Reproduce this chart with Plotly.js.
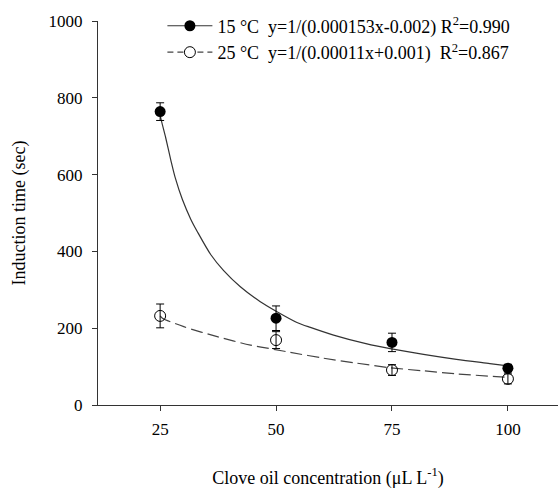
<!DOCTYPE html>
<html>
<head>
<meta charset="utf-8">
<script src="https://cdn.plot.ly/plotly-3.0.1.min.js"></script>
<style>html,body{margin:0;padding:0;background:#fff;}#chart{width:559px;height:491px;}</style>
</head>
<body>
<div id="chart"></div>
<script>
// Observed data
var conc = [25, 50, 75, 100];
var t15 = [764, 226, 163, 96];
var t15err = [23, 32, 24, 10];
var t25 = [232, 169, 91, 68];
var t25err = [31, 22, 14, 13];

// Fitted curves
var fit15x = [25, 25.1, 26.2, 27.3, 28.3, 29.8, 31.6, 33.0, 35.9, 38.7, 42.3, 46.6, 50.2, 54.5, 57.4, 62.4, 69.6, 74.6, 81.8, 88.9, 96.1, 100];
var fit15y = [764, 750, 696, 638, 590, 535, 484, 452, 392, 350, 308, 269, 243, 215, 202, 182, 159, 147, 132, 119, 108, 102];
var fit25x = [25, 25.5, 30.1, 37.3, 44.5, 49.5, 53.1, 60.2, 67.4, 74.6, 81.8, 88.9, 97.5, 100];
var fit25y = [232, 226, 204, 178, 156, 145, 137, 122, 109, 97, 89, 81, 74, 72];

var xTicks = [25, 50, 75, 100];
var yTicks = [0, 200, 400, 600, 800, 1000];
var legend15 = '15 \u00B0C  y=1/(0.000153x-0.002) R<sup>2</sup>=0.990';
var legend25 = '25 \u00B0C  y=1/(0.00011x+0.001)  R<sup>2</sup>=0.867';

var lineCol = '#333333';
var traces = [
  {x: fit15x, y: fit15y, mode: 'lines', line: {color: lineCol, width: 1.2, shape: 'spline', smoothing: 0.8}, showlegend: false, hoverinfo: 'skip'},
  {x: fit25x, y: fit25y, mode: 'lines', line: {color: '#444444', width: 1.2, dash: '12px,5px', shape: 'spline', smoothing: 0.8}, showlegend: false, hoverinfo: 'skip'},
  {x: conc, y: t15, mode: 'markers', showlegend: false,
   marker: {symbol: 'circle', size: 11, color: '#000'},
   error_y: {type: 'data', array: t15err, visible: true, color: '#000', thickness: 1, width: 4}},
  {x: conc, y: t25, mode: 'markers', showlegend: false,
   marker: {symbol: 'circle', size: 11, color: 'rgba(255,255,255,0)', line: {color: '#000', width: 1}},
   error_y: {type: 'data', array: t25err, visible: true, color: '#000', thickness: 1, width: 4}},
  {x: [null], y: [null], mode: 'lines+markers', name: legend15,
   line: {color: lineCol, width: 1.2}, marker: {symbol: 'circle', size: 11, color: '#000'}},
  {x: [null], y: [null], mode: 'lines+markers', name: legend25,
   line: {color: '#444444', width: 1.2, dash: '6px,4px'}, marker: {symbol: 'circle', size: 11, color: '#fff', line: {color: '#000', width: 1}}}
];

var fontFam = '"Liberation Serif", "Times New Roman", serif';
var layout = {
  width: 559, height: 491,
  margin: {l: 98, r: 1, t: 21, b: 86},
  paper_bgcolor: '#fff', plot_bgcolor: '#fff',
  font: {family: fontFam, color: '#000', size: 17},
  showlegend: true,
  legend: {x: 0.14, y: 1.035, xanchor: 'left', yanchor: 'top', bgcolor: 'rgba(0,0,0,0)',
           font: {family: fontFam, size: 18, color: '#000'}, tracegroupgap: 0, itemwidth: 45},
  xaxis: {
    range: [11.6, 110.8], tickvals: xTicks, ticktext: xTicks.map(String),
    showgrid: false, zeroline: false, showline: true, linecolor: '#333', linewidth: 1,
    ticks: 'outside', ticklen: 5, tickcolor: '#333', ticklabelstandoff: 4,
    tickfont: {family: fontFam, size: 17},
    title: {text: 'Clove oil concentration (\u03BCL L<sup>-1</sup>)', font: {family: fontFam, size: 18}, standoff: 32}
  },
  yaxis: {
    range: [0, 1000], tickvals: yTicks, ticktext: yTicks.map(String),
    showgrid: false, zeroline: false, showline: true, linecolor: '#333', linewidth: 1,
    ticks: 'outside', ticklen: 5, tickcolor: '#333', ticklabelstandoff: 6,
    tickfont: {family: fontFam, size: 17},
    title: {text: 'Induction time (sec)', font: {family: fontFam, size: 18}, standoff: 18}
  }
};

Plotly.newPlot('chart', traces, layout, {displayModeBar: false, staticPlot: true});
</script>
</body>
</html>
